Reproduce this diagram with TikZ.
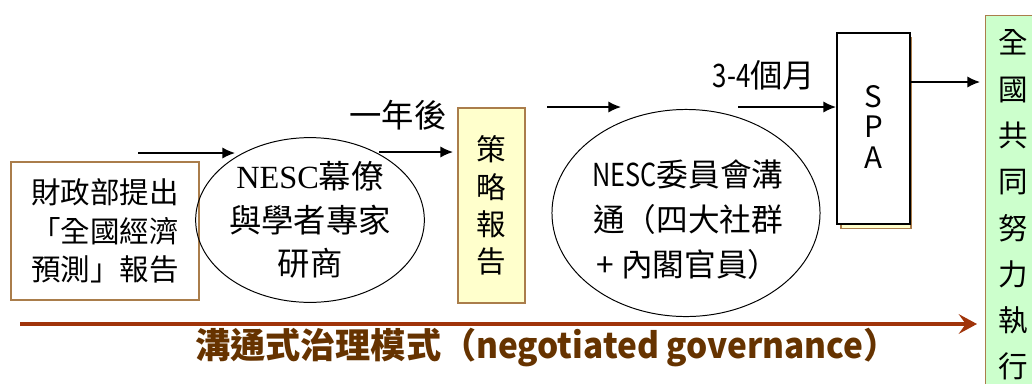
\documentclass[tikz,border=0pt]{standalone}
\usepackage{fontspec}
\setmainfont{Noto Sans CJK TC}
\newfontfamily\nescserif{Liberation Serif}
\usetikzlibrary{arrows.meta,positioning,shapes.geometric}
\definecolor{boxbrown}{RGB}{170,125,75}
\definecolor{rust}{RGB}{160,52,10}
\definecolor{textbrown}{RGB}{102,51,0}
\definecolor{paleyellow}{RGB}{255,255,204}
\definecolor{palegreen}{RGB}{204,255,204}

\begin{document}
\begin{tikzpicture}[
     x=0.025cm, y=-0.025cm,
     % define styles
     stepbox/.style={
         draw=boxbrown,
         line width=0.8pt,
         inner sep=0pt,
         align=center
     },
     talk/.style={
         draw,
         ellipse,
         line width=0.7pt,
         inner sep=0pt,
         align=center
     },
     flow/.style={
         -{Latex[length=9pt,width=8pt]},
         line width=1pt
     },
     >=latex
]
\useasboundingbox (0,0) rectangle (1032,383);

% boxes and ellipses
\node[stepbox, fill=white, minimum width=4.7cm, minimum height=3.45cm,
      font=\fontsize{21}{27.6}\selectfont] (mof) at (105,231)
     {財政部提出\\「全國經濟\\預測」報告};
\node[talk, minimum width=5.375cm, minimum height=4.025cm,
      font=\fontsize{23}{30.8}\selectfont] (staff) at (310,220)
     {{\nescserif NESC}幕僚\\與學者專家\\研商};
\node[stepbox, fill=paleyellow, minimum width=1.675cm, minimum height=4.875cm,
      font=\fontsize{21}{26.5}\selectfont] (report) at (491.5,205.5)
     {策\\略\\報\\告};
\node[talk, minimum width=6.7cm, minimum height=5.175cm] (council) at (686,213) {};
\node[align=center, font=\fontsize{22.5}{31.9}\selectfont] (counciltext) at (688,220)
     {\scalebox{0.8}[1]{NESC}委員會溝\\通（四大社群\\+ 內閣官員）};
% SPA box with its shadow
\node[stepbox, fill=paleyellow, minimum width=1.75cm, minimum height=4.775cm]
     (spashadow) at (876,133) {};
\node[draw, fill=white, line width=1pt, minimum width=1.825cm, minimum height=4.775cm,
      inner sep=0pt] (spa) at (873.5,128.5) {};
\node[align=center, font=\fontsize{21}{21.8}\selectfont, anchor=north]
     (spatext) at (873.5,80) {S\\P\\A};
\node[stepbox, fill=palegreen, minimum width=1.6cm, minimum height=9.6cm,
      anchor=north west] (nation) at (985,15) {};
\node[align=center, font=\fontsize{21}{32.9}\selectfont, anchor=north]
     (nationtext) at (1013,25) {全\\國\\共\\同\\努\\力\\執\\行};

% labels
\node[font=\fontsize{23}{23}\selectfont] (year) at (398,115) {一年後};
\node[font=\fontsize{23}{23}\selectfont] (months) at (764,75)
     {\scalebox{0.8}[1]{3-4}個月};

% arrow end points
\coordinate (a1s) at (138,153);
\coordinate (a1e) at (235,153);
\coordinate (a2s) at (379,152);
\coordinate (a2e) at (453,152);
\coordinate (a3s) at (547,107);
\coordinate (a3e) at (621,107);
\coordinate (a4s) at (738,107);
\coordinate (a4e) at (836,107);
\coordinate (a5e) at (980,82);
\coordinate (gs) at (20,324);
\coordinate (ge) at (977,324);

\draw[flow] (a1s) -- (a1e);
\draw[flow] (a2s) -- (a2e);
\draw[flow] (a3s) -- (a3e);
\draw[flow] (a4s) -- (a4e);
\draw[flow] (spa.east |- a5e) -- (a5e);

% governance arrow
\draw[rust, line width=2.8pt, -{Stealth[length=13pt,width=14pt,inset=5pt]}] (gs) -- (ge);
\node[textbrown, font=\fontsize{25}{25}\selectfont\bfseries] (gov) at (547,348)
     {溝通式治理模式（\scalebox{0.95}[1]{negotiated governance}）};
\end{tikzpicture}
\end{document}
